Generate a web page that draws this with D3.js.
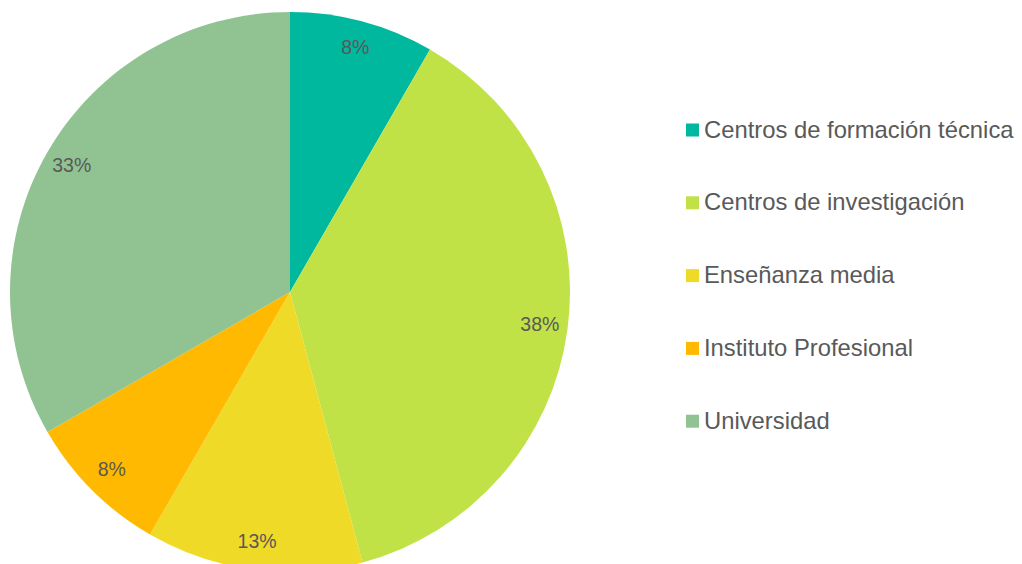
<!DOCTYPE html>
<html>
<head>
<meta charset="utf-8">
<script src="https://cdn.jsdelivr.net/npm/d3@7"></script>
<style>
  body { margin: 0; background: #fff; }
  svg { display: block; font-family: "Liberation Sans", Arial, sans-serif; }
</style>
</head>
<body>
<script>
var categories = ['Centros de formación técnica', 'Centros de investigación', 'Enseñanza media', 'Instituto Profesional', 'Universidad'];
var values = [2, 9, 3, 2, 8];
var colors = ['#00B89E', '#C1E247', '#F0DA28', '#FFB900', '#91C392'];

var width = 1022, height = 564;
var cx = 290, cy = 292, radius = 280;

var svg = d3.select('body').append('svg')
  .attr('width', width)
  .attr('height', height);

var data = categories.map(function(c, i) { return {name: c, value: values[i], color: colors[i]}; });
var total = d3.sum(values);

var pie = d3.pie()
  .sort(null)
  .value(function(d) { return d.value; });

var arc = d3.arc().innerRadius(0).outerRadius(radius);
var labelArc = d3.arc().innerRadius(radius * 0.9).outerRadius(radius * 0.9);

var g = svg.append('g')
  .attr('transform', 'translate(' + cx + ',' + cy + ')');

var arcs = pie(data);

g.selectAll('path')
  .data(arcs)
  .enter().append('path')
    .attr('d', arc)
    .attr('fill', function(d) { return d.data.color; });

// percentage labels
g.selectAll('text')
  .data(arcs)
  .enter().append('text')
    .attr('transform', function(d) { return 'translate(' + labelArc.centroid(d) + ')'; })
    .attr('text-anchor', 'middle')
    .attr('dy', '0.3em')
    .attr('font-size', '19.5px')
    .attr('fill', '#595959')
    .text(function(d) { return Math.round(d.data.value / total * 100) + '%'; });

// legend
var legend = svg.append('g')
  .attr('transform', 'translate(686,130)');

var item = legend.selectAll('g')
  .data(data)
  .enter().append('g')
    .attr('transform', function(d, i) { return 'translate(0,' + (i * 72.8) + ')'; });

item.append('rect')
  .attr('x', 0)
  .attr('y', -6.5)
  .attr('width', 13)
  .attr('height', 13)
  .attr('fill', function(d) { return d.color; });

item.append('text')
  .attr('x', 18)
  .attr('y', 7.5)
  .attr('font-size', '23.8px')
  .attr('fill', '#595959')
  .text(function(d) { return d.name; });
</script>
</body>
</html>
